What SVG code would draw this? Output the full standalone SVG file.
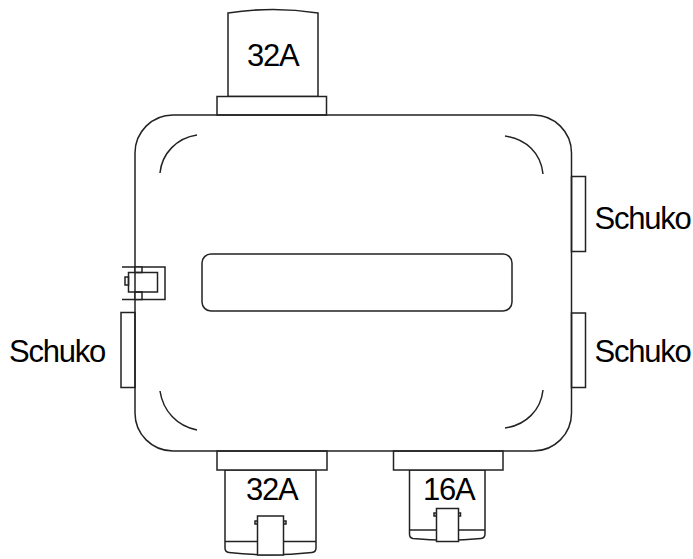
<svg xmlns="http://www.w3.org/2000/svg" width="693" height="559" viewBox="0 0 693 559">
<style>
.s{fill:none;stroke:#222;stroke-width:1.5}
.w{fill:#fff;stroke:#222;stroke-width:1.5}
.t{font-family:"Liberation Sans",Arial,sans-serif;font-size:31px;letter-spacing:-1.25px;fill:#000}
</style>
<rect width="693" height="559" fill="#fff"/>
<g id="plug-top-32a">
<path class="w" d="M228 96.500V13Q273 6 318 13V96.500Z"/>
<rect class="w" x="217" y="96.500" width="109.500" height="18.500"/>
<text class="t" x="247" y="66">32A</text>
</g>
<g id="plug-bottom-32a">
<path class="w" d="M225 470V548Q225 552 229 552.500Q270 557 312 552.500Q316 552 316 548V470Z"/>
<path class="s" d="M225 541.500H316"/>
<rect class="w" x="255" y="521" width="2.500" height="3"/>
<rect class="w" x="283.500" y="521" width="2.500" height="3"/>
<rect class="w" x="257.500" y="516" width="26" height="39"/>
<rect class="w" x="217" y="451" width="110" height="19"/>
<text class="t" x="246" y="500">32A</text>
</g>
<g id="plug-bottom-16a">
<path class="w" d="M409.500 470V534Q409.500 538 413 538.500Q447 542 481 538.500Q485 538 485 534V470Z"/>
<path class="s" d="M409.500 530H485"/>
<rect class="w" x="434" y="513" width="2.500" height="3"/>
<rect class="w" x="458" y="513" width="2.500" height="3"/>
<rect class="w" x="436.500" y="508.500" width="22" height="33"/>
<rect class="w" x="393.500" y="451" width="109.500" height="19"/>
<text class="t" x="423" y="500">16A</text>
</g>
<g id="socket-left"><rect class="w" x="121" y="312.500" width="14" height="75"/>
<text class="t" x="9" y="362">Schuko</text></g>
<g id="socket-right-top"><rect class="w" x="571.500" y="176.500" width="14" height="75"/>
<text class="t" x="594.500" y="229">Schuko</text></g>
<g id="socket-right-bottom"><rect class="w" x="571.500" y="313" width="14" height="74.500"/>
<text class="t" x="594.500" y="362">Schuko</text></g>
<g id="enclosure">
<rect class="s" x="135" y="115" width="436.500" height="336" rx="38" ry="38"/>
<path class="s" d="M160 173C162 153 177 138 197 135"/>
<path class="s" d="M505 136C526 139 541 153 543 174"/>
<path class="s" d="M543 390C541 410 526 425 505 428"/>
<path class="s" d="M160 391C163 411 177 426 197 430"/>
<rect class="s" x="202" y="254" width="310" height="57" rx="9" ry="9"/>
</g>
<g id="latch">
<path class="s" d="M122 267H165V299.500H122"/>
<rect class="w" x="135" y="267" width="7" height="5.500"/>
<rect class="w" x="135" y="292" width="7" height="7.500"/>
<rect class="s" x="125" y="277" width="3.500" height="8"/>
<rect class="s" x="128.500" y="272.500" width="29" height="19.500"/>
</g>
</svg>
